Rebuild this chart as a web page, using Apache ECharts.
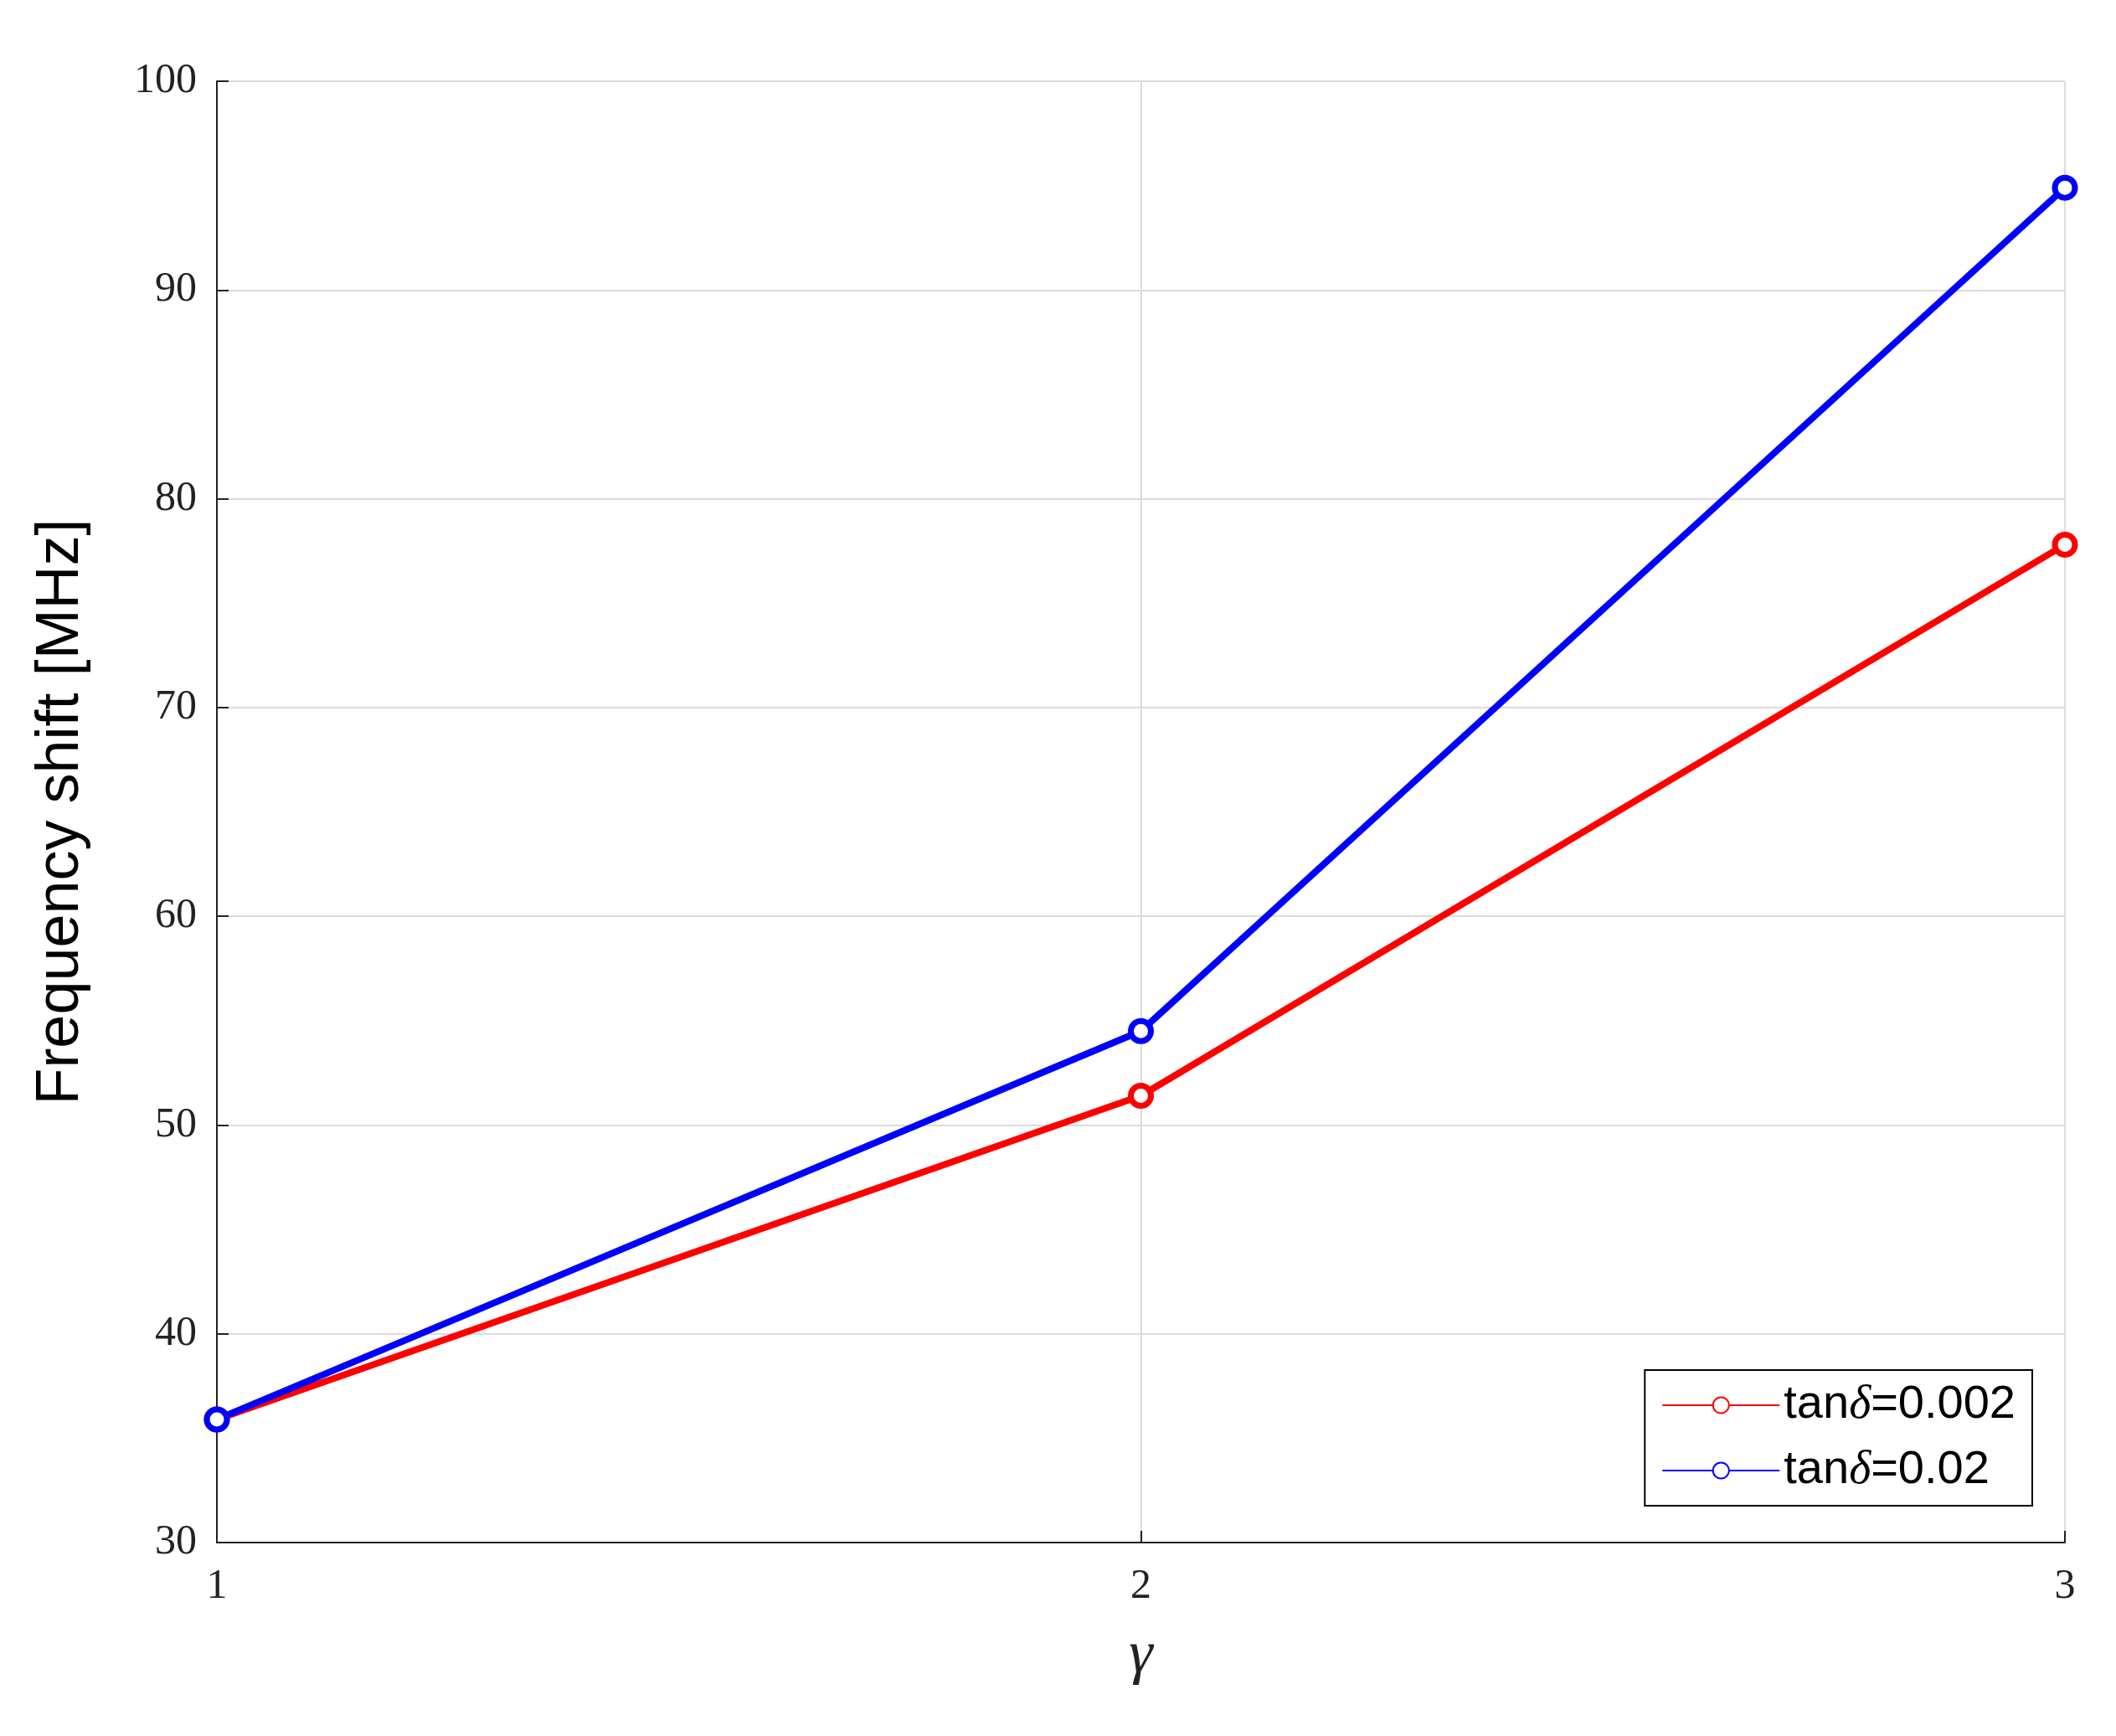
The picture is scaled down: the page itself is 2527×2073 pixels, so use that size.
<!DOCTYPE html>
<html>
<head>
<meta charset="utf-8">
<script src="https://cdn.jsdelivr.net/npm/echarts@6/dist/echarts.min.js"></script>
<style>html,body{margin:0;padding:0;background:#fff;}</style>
</head>
<body>
<div id="chart" style="width:2527px;height:2073px;"></div>
<script>
// data
var gammaValues = [1, 2, 3];
var redValues = [35.9, 51.4, 77.8];   // tan delta = 0.002
var blueValues = [35.9, 54.5, 94.9];  // tan delta = 0.02
var seriesNames = ['tanδ=0.002', 'tanδ=0.02'];

function pairs(ys) {
  return gammaValues.map(function (g, i) { return [g, ys[i]]; });
}

var chart = echarts.init(document.getElementById('chart'));
var serif = 'Liberation Serif';

function lineSeries(name, ys, color) {
  return {
    name: name,
    type: 'line',
    data: pairs(ys),
    symbol: 'circle',
    symbolSize: 24,
    lineStyle: {color: color, width: 8},
    itemStyle: {color: '#fff', borderColor: color, borderWidth: 7},
    z: 3
  };
}

var option = {
  backgroundColor: '#fff',
  animation: false,
  grid: {left: 259, right: 61, top: 97, bottom: 231},
  legend: {
    right: 100, bottom: 275,
    orient: 'vertical',
    backgroundColor: '#fff',
    borderColor: '#000', borderWidth: 2,
    padding: [14, 20, 14, 20],
    itemWidth: 140, itemHeight: 24, itemGap: 22,
    data: seriesNames,
    formatter: function (n) {
      return n.replace('δ', '{d|δ}');
    },
    textStyle: {
      fontFamily: 'Liberation Sans', fontSize: 56, color: '#000',
      rich: {d: {fontFamily: serif, fontStyle: 'italic', fontSize: 56}}
    }
  },
  xAxis: {
    type: 'value', min: 1, max: 3, interval: 1,
    name: 'γ', nameLocation: 'middle', nameGap: 100,
    nameTextStyle: {fontFamily: serif, fontStyle: 'italic', fontSize: 72, color: '#222'},
    axisLine: {show: true, onZero: false, lineStyle: {color: '#222', width: 2}},
    axisTick: {show: true, inside: true, length: 14, lineStyle: {color: '#222', width: 2}},
    axisLabel: {fontFamily: serif, fontSize: 50, color: '#222', margin: 28},
    splitLine: {show: true, lineStyle: {color: '#dcdcdc', width: 2}}
  },
  yAxis: {
    type: 'value', min: 30, max: 100, interval: 10,
    name: 'Frequency shift [MHz]', nameLocation: 'middle', nameGap: 150,
    nameTextStyle: {fontFamily: 'Liberation Sans', fontSize: 72, color: '#000'},
    axisLine: {show: true, lineStyle: {color: '#222', width: 2}},
    axisTick: {show: true, inside: true, length: 14, lineStyle: {color: '#222', width: 2}},
    axisLabel: {fontFamily: serif, fontSize: 50, color: '#222', margin: 24},
    splitLine: {show: true, lineStyle: {color: '#dcdcdc', width: 2}}
  },
  series: [
    lineSeries(seriesNames[0], redValues, '#ff0000'),
    lineSeries(seriesNames[1], blueValues, '#0000ff')
  ]
};

chart.setOption(option);
</script>
</body>
</html>
